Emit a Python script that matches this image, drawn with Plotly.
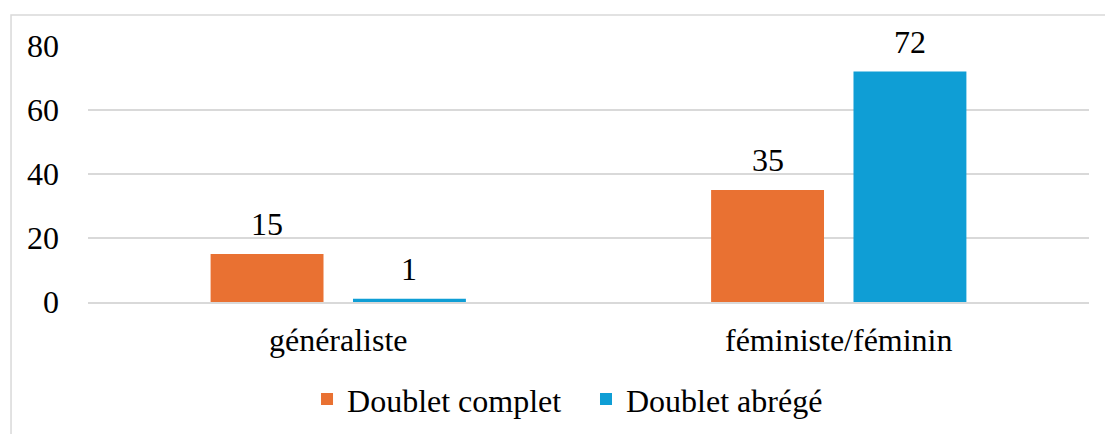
import plotly.graph_objects as go

categories = ["généraliste", "féministe/féminin"]
doublet_complet = [15, 35]
doublet_abrege = [1, 72]
series_names = ["Doublet complet", "Doublet abrégé"]
y_ticks = [0, 20, 40, 60, 80]

FONT = "Liberation Serif"
ORANGE = "#E97132"
BLUE = "#0F9ED5"
GRID = "#D9D9D9"

# the page body adds an 8px margin, so the figure is 8px smaller each way
W, H = 1105, 426
L, R, T, B = 80, 24, 38, 132
BAR_OFFSET = 71  # px from category centre to each bar centre

fig = go.Figure()
series = [(series_names[0], doublet_complet, ORANGE, "legend", -1),
          (series_names[1], doublet_abrege, BLUE, "legend2", 1)]
for name, vals, col, leg, side in series:
    fig.add_trace(go.Bar(
        x=categories, y=vals, name=name, legend=leg,
        marker=dict(color=col, line=dict(width=0)),
    ))
    # value labels sit a bit higher above the bar than plotly's own "outside" text
    for cat, v in zip(categories, vals):
        fig.add_annotation(x=cat, y=v, text=str(v), showarrow=False,
                           xshift=side * BAR_OFFSET, yshift=10,
                           yanchor="bottom",
                           font=dict(family=FONT, size=32, color="black"))

leg_font = dict(family=FONT, size=32, color="black")
fig.update_layout(
    width=W, height=H,
    margin=dict(l=L, r=R, t=T, b=B, autoexpand=False),
    paper_bgcolor="white", plot_bgcolor="white",
    font=dict(family=FONT, size=32, color="black"),
    barmode="group", bargap=0.431, bargroupgap=0.207,
    showlegend=True,
    legend=dict(orientation="h", x=0.2188, xanchor="left",
                y=-0.38, yanchor="middle", font=leg_font, itemwidth=30),
    legend2=dict(orientation="h", x=0.4975, xanchor="left",
                 y=-0.38, yanchor="middle", font=leg_font, itemwidth=30),
    xaxis=dict(showgrid=False, showline=True, linecolor=GRID, linewidth=1.5,
               ticks="", ticklabelstandoff=9, automargin=False),
    yaxis=dict(range=[0, 80], tickvals=y_ticks, showgrid=True,
               gridcolor=GRID, gridwidth=1.5, zeroline=False,
               showline=False, ticks="", ticklabelstandoff=28,
               automargin=False),
)

# outer chart-area border (runs off the bottom/right of the picture)
fig.add_shape(type="rect", xref="paper", yref="paper",
              x0=-0.0769, x1=1.06, y0=-0.8, y1=1.121,
              line=dict(color=GRID, width=1.5), fillcolor="rgba(0,0,0,0)",
              layer="below")

fig.write_html("out.html")
